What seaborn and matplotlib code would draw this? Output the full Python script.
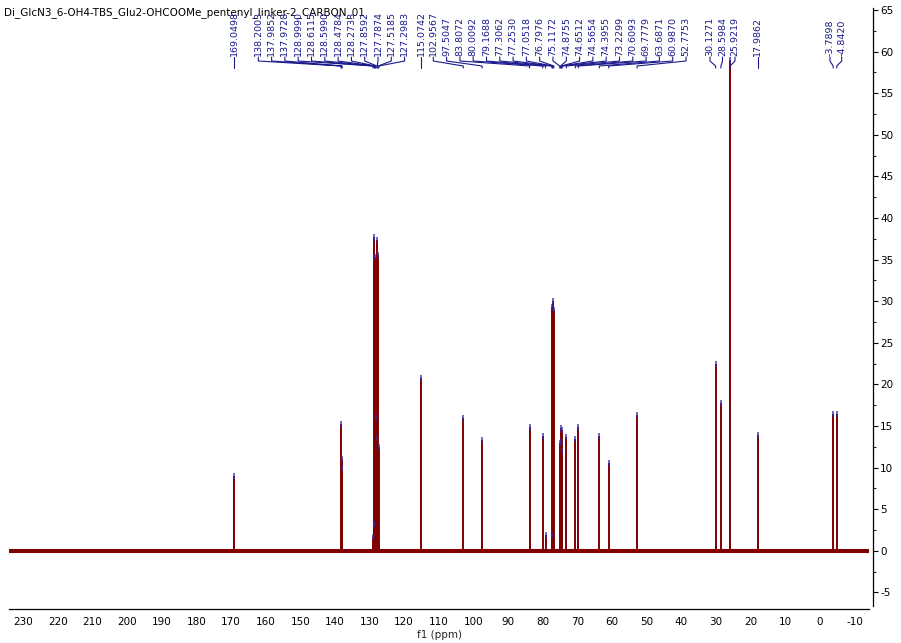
import numpy as np
import pandas as pd
import seaborn as sns
import matplotlib.pyplot as plt
from matplotlib.lines import Line2D
from matplotlib.ticker import MultipleLocator

# Peak list (ppm) and peak heights
peak_ppm = [169.0498, 138.2003, 137.9852, 137.9728, 128.9990, 128.6115, 128.5990,
            128.4784, 128.2733, 127.8592, 127.7874, 127.5185, 127.2983, 115.0742,
            102.9567, 97.5047, 83.8072, 80.0092, 79.1688, 77.3062, 77.2530, 77.0518,
            76.7976, 75.1172, 74.8755, 74.6512, 74.5654, 74.3955, 73.2299, 70.6093,
            69.7779, 63.6871, 60.9870, 52.7753, 30.1271, 28.5984, 25.9219, 17.9862,
            -3.7898, -4.8420]
peak_height = [9.0, 15.2, 11.0, 10.0, 1.7, 3.2, 37.7,
               35.3, 16.0, 37.3, 13.6, 35.5, 12.5, 20.8,
               15.9, 13.3, 14.9, 13.8, 1.9, 29.3, 1.9, 30.0,
               28.9, 12.9, 13.1, 14.8, 14.5, 12.0, 13.7, 13.4,
               14.9, 13.8, 10.5, 16.3, 22.4, 17.7, 59.0, 13.9,
               16.4, 16.4]

x_ticks = list(range(-10, 231, 10))
y_ticks = list(range(-5, 66, 5))
title = "Di_GlcN3_6-OH4-TBS_Glu2-OHCOOMe_pentenyl_linker-2_CARBON_01"

# label groups: (number of labels, left pixel or None = at peak, spacing px)
label_layout = [(1, None, 0), (12, 258.3, 13.3), (1, None, 0), (20, 433.3, 13.3),
                (3, 710.0, 12.5), (1, None, 0), (2, 830.0, 11.7)]

RED = "#800000"
BLUE = "#1a1a8c"
W, H = 901, 643

sns.set_style("white")
plt.rcParams['font.family'] = ['DejaVu Sans']
plt.rcParams['axes.unicode_minus'] = False

fig = plt.figure(figsize=(W / 100, H / 100), dpi=100)
ax = fig.add_axes([9.3 / W, 1 - 609.3 / H, (869 - 9.3) / W, (609.3 - 8.3) / H])
ax.set_xlim(233.96, -14.14)
ax.set_ylim(-7.04, 65.2)

# baseline and peaks
ax.axhline(0, color=RED, lw=2.9, zorder=2)
ax.vlines(peak_ppm, 0, peak_height, color=RED, lw=1.4, zorder=3)
df = pd.DataFrame({"ppm": peak_ppm, "height": peak_height})
sns.scatterplot(data=df, x="ppm", y="height", marker="|", s=22, color="#2a2ab0",
                alpha=0.75, linewidth=1.3, ax=ax, zorder=4, legend=False)

# axes styling
sns.despine(ax=ax, left=True, top=True, right=False, bottom=False)
ax.spines['right'].set_position(('outward', 3))
ax.spines['right'].set_bounds(-6.6, 65.2)
for s in ['right', 'bottom']:
    ax.spines[s].set_color('black')
    ax.spines[s].set_linewidth(0.9)
ax.yaxis.tick_right()
ax.set_yticks(y_ticks)
ax.yaxis.set_minor_locator(MultipleLocator(2.5))
ax.set_xticks(x_ticks)
ax.xaxis.set_minor_locator(MultipleLocator(5))
ax.tick_params(axis='both', which='major', direction='out', length=3.5, width=0.8,
               labelsize=7.5, colors='black', pad=2)
ax.tick_params(axis='both', which='minor', direction='out', length=2, width=0.8)
ax.tick_params(axis='y', which='both', right=True, left=False, labelright=True, labelleft=False, pad=1.5)
ax.set_xlabel("f1 (ppm)", fontsize=7.5, labelpad=2)
ax.set_ylabel("")
ax.grid(False)

fig.text(4 / W, 1 - 13 / H, title, ha='left', va='center', fontsize=7.5, color='black')

# peak labels with connectors
fig.canvas.draw()
i = 0
for count, start, step in label_layout:
    for k in range(count):
        p = peak_ppm[i]
        px = ax.transData.transform((p, 0))[0]
        lx = px if start is None else start + k * step
        fig.text(lx / W, 1 - 56 / H, f"{p:.4f}", rotation=90, ha='center', va='bottom',
                 fontsize=6.8, color=BLUE)
        xs = [lx, lx, px, px]
        ys = [57, 61, 66, 68]
        fig.add_artist(Line2D([x / W for x in xs], [1 - y / H for y in ys],
                              transform=fig.transFigure, color=BLUE, lw=0.8))
        i += 1

fig.savefig("out.png", dpi=100)
